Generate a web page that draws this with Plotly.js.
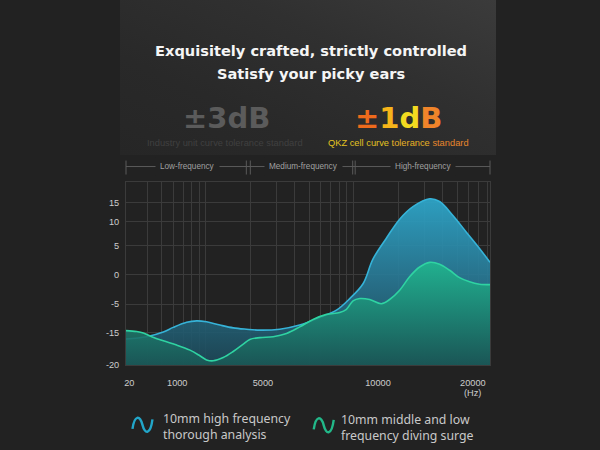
<!DOCTYPE html>
<html>
<head>
<meta charset="utf-8">
<script src="https://cdn.plot.ly/plotly-3.0.1.min.js"></script>
<style>
  html, body { margin:0; padding:0; background:#222222; width:600px; height:450px; overflow:hidden; }
  #panel { position:absolute; left:120px; top:0px; width:376px; height:155px;
           background: linear-gradient(205deg, #3b3b3b 0%, #303030 35%, #292929 70%, #262626 100%); }
  #chart { position:absolute; left:0; top:0; width:600px; height:450px; }
</style>
</head>
<body>
<div id="panel"></div>
<div id="chart"></div>
<script>
// ---------- data (y in the chart's own vertical units) ----------
const xTickLabels = ['20', '1000', '5000', '10000', '20000'];
const xTickVals   = [30.3, 64, 243, 1459, 6397];
const yTickLabels = ['-20', '-15', '-5', '0', '5', '10', '15'];
const yTickVals   = [-20, -13.0, -6.9, -0.5, 5.7, 10.9, 15.0];

// 10mm high frequency thorough analysis (blue)
const hfX = [28.8, 39.7, 51.5, 60.1, 74.1, 86.5, 101, 124.5, 153, 188, 232, 316, 431, 589, 764, 940, 1156, 1349, 1663, 2046, 2518, 3266, 3811, 4688, 5781, 7096, 8356];
const hfY = [-14.4, -13.9, -12.9, -11.9, -10.8, -10.5, -10.7, -11.4, -12.0, -12.3, -12.5, -12.3, -11.4, -9.8, -8.2, -5.7, -2.5, 2.8, 7.3, 11.4, 14.1, 15.8, 15.2, 12.2, 8.6, 5.1, 2.1];

// 10mm middle and low frequency diving surge (green)
const mlX = [28.8, 34.0, 37.7, 43.0, 51.5, 63.4, 78.0, 91.0, 101, 112, 131, 153, 179, 198, 232, 285, 351, 431, 531, 655, 804, 893, 989, 1099, 1282, 1538, 1750, 2046, 2388, 2793, 3266, 3811, 4457, 5200, 6081, 7096, 8356];
const mlY = [-12.6, -12.8, -13.1, -13.9, -14.8, -15.7, -16.8, -18.0, -18.9, -19.1, -18.4, -17.1, -15.5, -14.5, -14.1, -13.9, -13.2, -11.8, -10.2, -9.1, -8.7, -8.0, -6.2, -5.7, -5.9, -6.8, -5.9, -3.9, -1.0, 1.1, 2.1, 1.7, 0.4, -1.2, -2.1, -2.6, -2.7];

const seriesNames = ['10mm high frequency thorough analysis', '10mm middle and low frequency diving surge'];
const bandLabels = ['Low-frequency', 'Medium-frequency', 'High-frequency'];

// ---------- layout geometry (pixels) ----------
const L = 126, R = 490.5, T = 181.5, B = 365;
const W = R - L, H = B - T;
const px = x => (x - L) / W;
const py = y => (B - y) / H;
const yBottom = yTickVals[0];
const xMin = Math.min(hfX[0], mlX[0]), xMax = Math.max(hfX[hfX.length-1], mlX[mlX.length-1]);

// minor vertical grid lines (log grid)
const gridVals = [];
[10, 100, 1000].forEach(d => { for (let m = 1; m <= 9; m++) { const v = m*d; if (v > 35 && v < 8500) gridVals.push(v); } });

const blueLine = '#36b3d8', greenLine = '#2fd3a2';

const traces = [
  { x:[xMin, xMax], y:[yBottom, yBottom], mode:'lines', line:{width:0}, hoverinfo:'skip', showlegend:false },
  { x:hfX, y:hfY, name:seriesNames[0], mode:'lines', line:{color:blueLine, width:1.6, shape:'spline', smoothing:1},
    fill:'tonexty', fillgradient:{type:'vertical', start:yBottom, stop:16,
      colorscale:[[0,'rgba(28,72,88,0.88)'],[0.5,'rgba(40,120,148,0.9)'],[1,'rgba(46,168,204,0.93)']]},
    showlegend:false },
  { x:[xMin, xMax], y:[yBottom, yBottom], mode:'lines', line:{width:0}, hoverinfo:'skip', showlegend:false },
  { x:mlX, y:mlY, name:seriesNames[1], mode:'lines', line:{color:greenLine, width:1.6, shape:'spline', smoothing:1},
    fill:'tonexty', fillgradient:{type:'vertical', start:yBottom, stop:2,
      colorscale:[[0,'rgba(26,88,86,0.88)'],[0.5,'rgba(28,135,115,0.88)'],[1,'rgba(32,182,142,0.9)']]},
    showlegend:false }
];

const sans = 'Liberation Sans, Arial, sans-serif';
const tickFont = {family:sans, size:9.2, color:'#cdcdcd'};

function pathFrom(cmds) {
  return cmds.map(c => c[0] + ' ' + c.slice(1).map((v,i) => (i%2===0 ? px(v) : py(v)).toFixed(5)).join(',')).join(' ');
}
function squiggle(dx, dy) {
  return pathFrom([
    ['M', 132.5+dx, 429+dy],
    ['C', 134.5+dx, 415+dy, 140+dx, 415+dy, 142.5+dx, 425+dy],
    ['C', 145+dx, 435+dy, 150.5+dx, 435+dy, 152.5+dx, 419.5+dy]
  ]);
}

const shapes = [];
const hdrColor = '#5a5a5a';
shapes.push({type:'line', xref:'paper', yref:'paper', x0:px(126), x1:px(490.5), y0:py(166), y1:py(166), line:{color:hdrColor, width:1}});
[126, 246.5, 250.5, 353, 355.5, 490.5].forEach(xv => {
  shapes.push({type:'line', xref:'paper', yref:'paper', x0:px(xv), x1:px(xv), y0:py(160), y1:py(174), line:{color:hdrColor, width:1}});
});
shapes.push({type:'path', xref:'paper', yref:'paper', path:squiggle(0, 0), line:{color:'#22a6c9', width:2.4}});
shapes.push({type:'path', xref:'paper', yref:'paper', path:squiggle(181.5, 0.5), line:{color:'#22b889', width:2.4}});

const bg = '#222222';
function ann(text, x, y, font, extra) {
  return Object.assign({text:text, xref:'paper', yref:'paper', x:px(x), y:py(y), showarrow:false,
    xanchor:'center', yanchor:'middle', font:font}, extra || {});
}
const titleFont = {family:'DejaVu Sans', size:14.6, color:'#f5f5f5', weight:'bold'};
const legFont = {family:'Noto Sans', size:12.3, color:'#c9c9c9'};
const hdrFont = {family:sans, size:8.2, color:'#a0a0a0'};

const annotations = [
  ann('Exquisitely crafted, strictly controlled', 311, 49.5, titleFont),
  ann('Satisfy your picky ears', 311.5, 72.5, titleFont),
  ann('±3dB', 226.4, 117.5, {family:'DejaVu Sans', size:29, color:'#5b5b5b', weight:'bold'}),
  ann('Industry unit curve tolerance standard', 224.8, 142.7, {family:sans, size:9.3, color:'#404040'}),
  ann('<span style="color:#ee6a1c">±</span><span style="color:#f6b41a">1</span><span style="color:#f2da20">d</span><span style="color:#f0842a">B</span>',
      399.3, 117, {family:'DejaVu Sans', size:29, color:'#f0b020', weight:'bold'}),
  ann('<span style="color:#e4c421">QKZ cell curve </span><span style="color:#e8b224">tolerance </span><span style="color:#e6862c">standard</span>',
      399, 142.7, {family:sans, size:9.3, color:'#e4c421'}),
  ann(bandLabels[0], 188, 166, hdrFont, {bgcolor:bg, borderpad:4}),
  ann(bandLabels[1], 304, 166, hdrFont, {bgcolor:bg, borderpad:4}),
  ann(bandLabels[2], 423.5, 166, hdrFont, {bgcolor:bg, borderpad:4}),
  ann('(Hz)', 473.3, 393, tickFont),
  ann('10mm high frequency<br>thorough analysis', 161, 426.5, legFont, {xanchor:'left', align:'left'}),
  ann('10mm middle and low<br>frequency diving surge', 339.5, 427.5, legFont, {xanchor:'left', align:'left'})
];

const gridColor = '#3b3b3b';
const layout = {
  width:600, height:450,
  margin:{l:L, r:600-R, t:T, b:450-B, pad:0},
  paper_bgcolor:'rgba(0,0,0,0)', plot_bgcolor:'rgba(0,0,0,0)',
  showlegend:false,
  xaxis:{type:'log', range:[Math.log10(xMin), Math.log10(xMax)], tickmode:'array', tickvals:xTickVals, ticktext:xTickLabels,
    showgrid:false, zeroline:false, ticks:'', tickfont:tickFont, ticklabelstandoff:9,
    showline:true, mirror:true, linecolor:gridColor, linewidth:1,
    minor:{tickmode:'array', tickvals:gridVals, showgrid:true, gridcolor:gridColor, gridwidth:1, ticks:''}},
  yaxis:{range:[yBottom, 19.4], tickmode:'array', tickvals:yTickVals, ticktext:yTickLabels,
    showgrid:true, gridcolor:gridColor, gridwidth:1, zeroline:false, ticks:'', tickfont:tickFont, ticklabelstandoff:4,
    showline:true, mirror:true, linecolor:gridColor, linewidth:1},
  shapes:shapes,
  annotations:annotations
};

Plotly.newPlot('chart', traces, layout, {staticPlot:true, displayModeBar:false});
</script>
</body>
</html>
